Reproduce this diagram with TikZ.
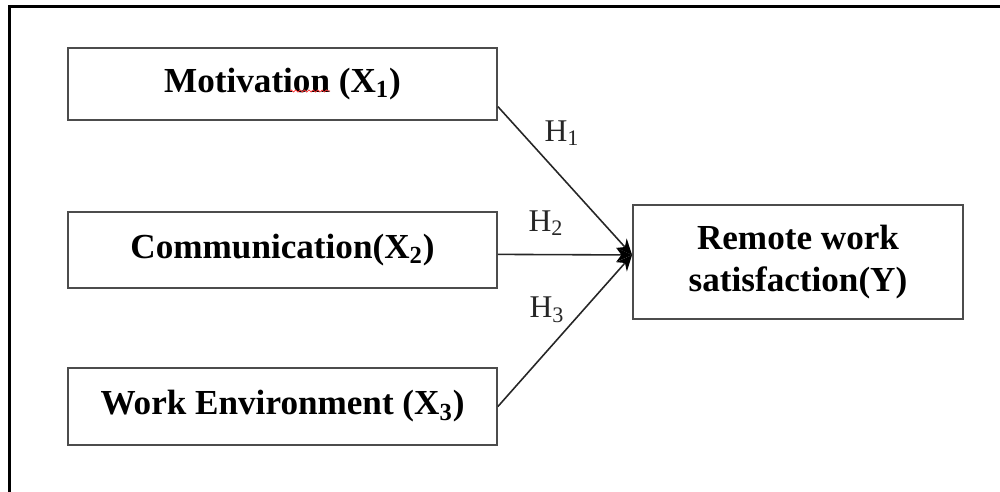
\documentclass[tikz,border=0pt]{standalone}
\usepackage{fontspec}
\setmainfont{Liberation Serif}
\usetikzlibrary{arrows.meta, decorations.pathmorphing}
\tikzstyle{var}=[shape=rectangle, draw=black!70, line width=1.1pt, fill=white, inner sep=0, font=\fontsize{20}{24}\selectfont\bfseries]
\tikzstyle{hyp}=[inner sep=0, text=black!85, font=\fontsize{18}{22}\selectfont]
\tikzstyle{path}=[draw=black!85, line width=0.9pt, -{Stealth[length=9pt, width=8pt, black]}]

\begin{document}
\begin{tikzpicture}[x=0.02cm, y=-0.02cm]
\useasboundingbox (0,0) rectangle (1000,492);
\draw[line width=1.2pt] (9.5,492) -- (9.5,6.5) -- (1000,6.5);
\node at (282.5,84)[var, minimum width=8.58cm, minimum height=1.44cm](mot){\raisebox{3pt}{Motivation (X\textsubscript{1})}};
\node at (282.5,250)[var, minimum width=8.58cm, minimum height=1.52cm](com){\raisebox{2pt}{Communication(X\textsubscript{2})}};
\node at (282.5,406.5)[var, minimum width=8.58cm, minimum height=1.54cm](env){\raisebox{2pt}{Work Environment (X\textsubscript{3})}};
\node at (798,262)[var, minimum width=6.6cm, minimum height=2.28cm, align=center](sat){Remote work\\satisfaction(Y)};
\draw[path] (mot.-6) -- ([yshift=4pt]sat.west);
\draw[path] ([yshift=-2.5pt]com.east) -- ([yshift=4pt]sat.west);
\draw[path] (env.east) -- ([yshift=4pt]sat.west);
\node at (562,133)[hyp](h1){H\textsubscript{1}};
\node at (546,223)[hyp](h2){H\textsubscript{2}};
\node at (547,310)[hyp](h3){H\textsubscript{3}};
% spell-check mark
\draw[red!80, line width=0.4pt, decorate, decoration={snake, amplitude=0.6pt, segment length=2.5pt}] (290,91) -- (330,91);
\end{tikzpicture}
\end{document}
